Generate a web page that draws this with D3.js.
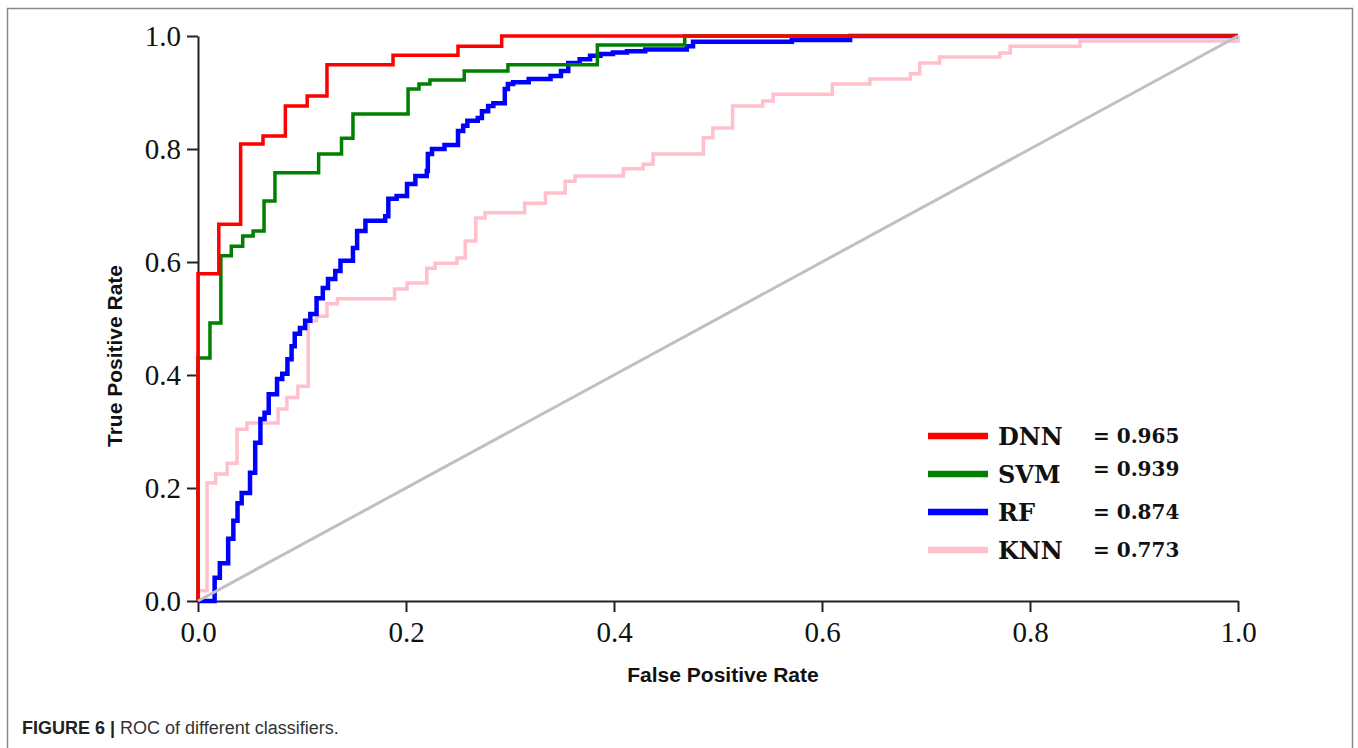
<!DOCTYPE html>
<html lang="en">
<head>
<meta charset="utf-8">
<title>ROC of different classifiers</title>
<script src="https://d3js.org/d3.v7.min.js"></script>
<style>
  body { margin: 0; background: #fff; }
  .axis path, .axis line { stroke: #222; stroke-width: 2; }
  .axis text { font-family: "Liberation Serif", "Times New Roman", serif; font-size: 29px; fill: #111; }
</style>
</head>
<body>
<div id="chart"></div>
<script>
// ROC step curves (FPR / TPR corner points)
var dnnFpr = [0, 0, 0.020, 0.041, 0.0625, 0.084, 0.105, 0.124, 0.1875, 0.25, 0.292, 1.0];
var dnnTpr = [0, 0.579, 0.667, 0.809, 0.823, 0.876, 0.894, 0.949, 0.966, 0.982, 1.0, 1.0];

var svmFpr = [0, 0, 0.0115, 0.022, 0.032, 0.043, 0.053, 0.0635, 0.074, 0.116, 0.138, 0.149, 0.202, 0.2125, 0.223, 0.256, 0.298, 0.384, 0.468, 1.0];
var svmTpr = [0, 0.430, 0.492, 0.611, 0.628, 0.646, 0.655, 0.708, 0.758, 0.791, 0.819, 0.862, 0.906, 0.915, 0.922, 0.938, 0.949, 0.984, 1.0, 1.0];

var rfFpr = [0, 0.016, 0.021, 0.029, 0.034, 0.038, 0.042, 0.050, 0.055, 0.060, 0.064, 0.068, 0.076, 0.081, 0.086, 0.090, 0.093, 0.098, 0.103, 0.108,
             0.114, 0.120, 0.125, 0.132, 0.137, 0.149, 0.153, 0.161, 0.180, 0.183, 0.191, 0.201, 0.209, 0.220, 0.221, 0.225, 0.237, 0.250, 0.255, 0.259,
             0.269, 0.273, 0.279, 0.284, 0.295, 0.298, 0.303, 0.318, 0.339, 0.349, 0.356, 0.367, 0.377, 0.387, 0.399, 0.4125, 0.43, 0.47, 0.476, 0.571, 0.627, 1.0];
var rfTpr = [0, 0.041, 0.067, 0.110, 0.142, 0.173, 0.191, 0.227, 0.280, 0.322, 0.333, 0.366, 0.393, 0.402, 0.428, 0.451, 0.473, 0.483, 0.496, 0.508,
             0.536, 0.554, 0.570, 0.584, 0.602, 0.625, 0.655, 0.673, 0.681, 0.712, 0.717, 0.738, 0.752, 0.761, 0.791, 0.800, 0.807, 0.832, 0.841, 0.850,
             0.855, 0.867, 0.876, 0.881, 0.906, 0.915, 0.918, 0.924, 0.929, 0.938, 0.952, 0.959, 0.965, 0.968, 0.971, 0.973, 0.976, 0.982, 0.990, 0.993, 1.0, 1.0];

var knnFpr = [0, 0, 0.0087, 0.017, 0.028, 0.0375, 0.047, 0.077, 0.0855, 0.096, 0.106, 0.114, 0.124, 0.134, 0.189, 0.201, 0.220, 0.228, 0.249, 0.257,
              0.267, 0.276, 0.314, 0.334, 0.353, 0.3625, 0.409, 0.428, 0.4375, 0.486, 0.495, 0.514, 0.543, 0.553, 0.61, 0.646, 0.685, 0.694, 0.713, 0.771,
              0.781, 0.848, 1.0];
var knnTpr = [0, 0.018, 0.209, 0.225, 0.244, 0.304, 0.315, 0.340, 0.360, 0.380, 0.496, 0.504, 0.526, 0.535, 0.552, 0.563, 0.589, 0.598, 0.607, 0.637,
              0.678, 0.687, 0.704, 0.722, 0.743, 0.752, 0.765, 0.773, 0.791, 0.820, 0.837, 0.876, 0.885, 0.897, 0.915, 0.924, 0.933, 0.952, 0.963, 0.970,
              0.982, 0.991, 1.0];

var classifiers = ["DNN", "SVM", "RF", "KNN"];
var aucValues = [0.965, 0.939, 0.874, 0.773];
var axisTicks = [0, 0.2, 0.4, 0.6, 0.8, 1.0];

var colors = { DNN: "#ff0000", SVM: "#008000", RF: "#0000ff", KNN: "#ffc0cb" };
var widths = { DNN: 3.5, SVM: 3.5, RF: 4.5, KNN: 3.5 };

var series = {
  DNN: dnnFpr.map((d, i) => [d, dnnTpr[i]]),
  SVM: svmFpr.map((d, i) => [d, svmTpr[i]]),
  RF: rfFpr.map((d, i) => [d, rfTpr[i]]),
  KNN: knnFpr.map((d, i) => [d, knnTpr[i]])
};

var width = 1358, height = 748;
var margin = {top: 36, right: 120, bottom: 147, left: 198};

var svg = d3.select("#chart").append("svg")
  .attr("width", width)
  .attr("height", height);

// figure frame
svg.append("rect")
  .attr("x", 7.5).attr("y", 8.5)
  .attr("width", 1345).attr("height", 760)
  .attr("fill", "none")
  .attr("stroke", "#8a8a8a")
  .attr("stroke-width", 1.5);

var x = d3.scaleLinear().domain([0, 1]).range([margin.left, 1238]);
var y = d3.scaleLinear().domain([0, 1]).range([601, margin.top]);

svg.append("g")
  .attr("class", "axis")
  .attr("transform", "translate(0,601)")
  .call(d3.axisBottom(x).tickValues(axisTicks).tickFormat(d3.format(".1f")).tickSize(11).tickSizeOuter(0).tickPadding(9));

svg.append("g")
  .attr("class", "axis")
  .attr("transform", "translate(" + margin.left + ",0)")
  .call(d3.axisLeft(y).tickValues(axisTicks).tickFormat(d3.format(".1f")).tickSize(11).tickSizeOuter(0).tickPadding(6));

var line = d3.line()
  .x(d => x(d[0]))
  .y(d => y(d[1]))
  .curve(d3.curveStepAfter);

// drawn back to front: KNN, RF, SVM, DNN
["KNN", "RF", "SVM", "DNN"].forEach(function(k) {
  svg.append("path")
    .datum(series[k])
    .attr("fill", "none")
    .attr("stroke", colors[k])
    .attr("stroke-width", widths[k])
    .attr("d", line);
});

// chance diagonal
svg.append("path")
  .datum([[0, 0], [1, 1]])
  .attr("fill", "none")
  .attr("stroke", "#c0c0c0")
  .attr("stroke-width", 3)
  .attr("d", d3.line().x(d => x(d[0])).y(d => y(d[1])));

// legend
var legend = svg.append("g")
  .selectAll("g")
  .data(classifiers)
  .enter().append("g")
  .attr("transform", (d, i) => "translate(928," + (436 + i * 38) + ")");

legend.append("line")
  .attr("x1", 0).attr("x2", 60)
  .attr("stroke", d => colors[d])
  .attr("stroke-width", 6.5);

legend.append("text")
  .attr("x", 70).attr("y", 9)
  .attr("font-family", "'DejaVu Serif', serif")
  .attr("font-weight", "bold")
  .attr("font-size", 24)
  .attr("fill", "#111")
  .text(d => d);

legend.append("text")
  .attr("x", 165).attr("y", (d, i) => i == 1 ? 2 : 7)
  .attr("font-family", "'DejaVu Serif', serif")
  .attr("font-weight", "bold")
  .attr("font-size", 20)
  .attr("fill", "#111")
  .text((d, i) => "= " + aucValues[i].toFixed(3));

// axis titles
svg.append("text")
  .attr("x", 723).attr("y", 682)
  .attr("text-anchor", "middle")
  .attr("font-family", "'Liberation Sans', Arial, sans-serif")
  .attr("font-weight", "bold")
  .attr("font-size", 21)
  .attr("fill", "#111")
  .text("False Positive Rate");

svg.append("text")
  .attr("transform", "translate(122,356) rotate(-90)")
  .attr("text-anchor", "middle")
  .attr("font-family", "'Liberation Sans', Arial, sans-serif")
  .attr("font-weight", "bold")
  .attr("font-size", 21)
  .attr("fill", "#111")
  .text("True Positive Rate");

// caption
var cap = svg.append("text")
  .attr("x", 22).attr("y", 734)
  .attr("font-family", "'Liberation Sans', Arial, sans-serif")
  .attr("font-size", 18)
  .attr("fill", "#333");
cap.append("tspan").attr("font-weight", "bold").attr("fill", "#222").text("FIGURE 6 |");
cap.append("tspan").text(" ROC of different classifiers.");
</script>
</body>
</html>
